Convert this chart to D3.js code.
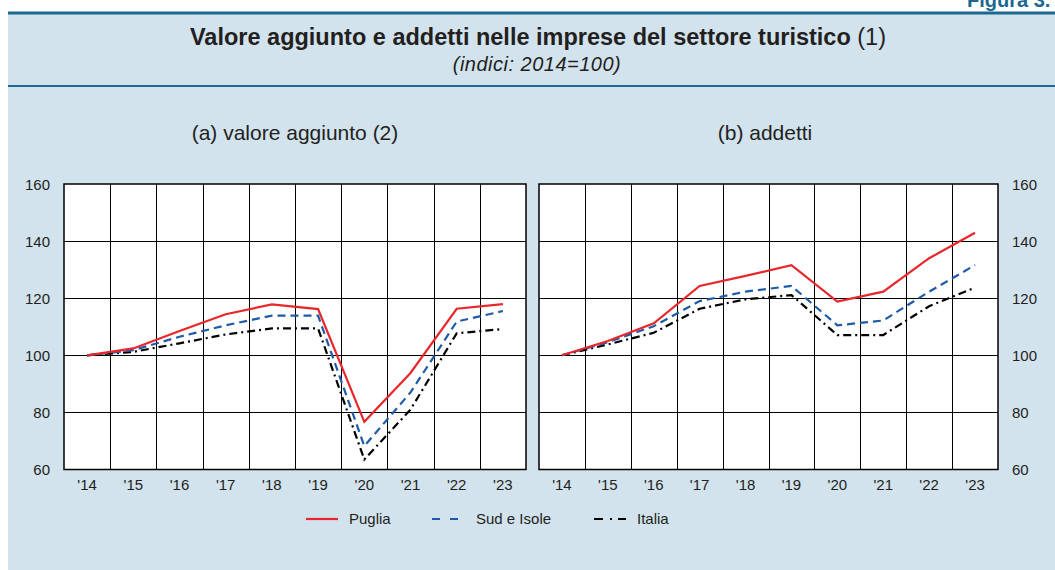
<!DOCTYPE html>
<html>
<head>
<meta charset="utf-8">
<script src="https://cdn.jsdelivr.net/npm/d3@7.9.0/dist/d3.min.js"></script>
<style>
  body { margin: 0; background: #fff; }
  text { font-family: "Liberation Sans", Arial, sans-serif; fill: #231f20; }
</style>
</head>
<body>
<svg id="chart" width="1055" height="570"></svg>
<script>
const years = ["'14", "'15", "'16", "'17", "'18", "'19", "'20", "'21", "'22", "'23"];
const yTicks = [60, 80, 100, 120, 140, 160];

// (a) valore aggiunto
const vaPuglia = [100, 102.4, 108.5, 114.4, 117.8, 116.2, 76.7, 93.8, 116.3, 117.9];
const vaSud    = [100, 101.8, 106.5, 110.5, 113.9, 113.9, 68.2, 87.0, 111.8, 115.5];
const vaItalia = [100, 101.2, 104.2, 107.3, 109.4, 109.4, 63.5, 81.0, 107.7, 109.2];

// (b) addetti
const adPuglia = [100, 105.0, 111.2, 124.3, 127.8, 131.6, 118.8, 122.3, 134.0, 142.9];
const adSud    = [100, 104.6, 110.2, 119.0, 122.3, 124.3, 110.5, 112.2, 122.3, 131.6];
const adItalia = [100, 103.8, 107.9, 116.3, 119.6, 121.1, 107.1, 107.1, 117.2, 123.7];

const seriesNames = ['Puglia', 'Sud e Isole', 'Italia'];
const seriesColors = ['#e8262b', '#1f5ba8', '#000000'];
const seriesDash = [null, '8,5', '8,4,2,4'];

const svg = d3.select('#chart');
const teal = '#1b6890';

// background
svg.append('rect').attr('x', 8).attr('y', 13).attr('width', 1047).attr('height', 557).attr('fill', '#d2e3ee');
svg.append('rect').attr('x', 8).attr('y', 11.5).attr('width', 1047).attr('height', 3).attr('fill', teal);
svg.append('rect').attr('x', 8).attr('y', 85).attr('width', 1047).attr('height', 2).attr('fill', teal);

svg.append('text').attr('x', 967).attr('y', 7)
  .style('font-weight', 'bold').style('font-size', '20px').style('fill', teal)
  .text('Figura 3.');

const title = svg.append('text').attr('x', 538).attr('y', 45)
  .attr('text-anchor', 'middle').style('font-size', '23.5px');
title.append('tspan').style('font-weight', 'bold').text('Valore aggiunto e addetti nelle imprese del settore turistico');
title.append('tspan').text(' (1)');

svg.append('text').attr('x', 537).attr('y', 71)
  .attr('text-anchor', 'middle').style('font-size', '20px').style('font-style', 'italic')
  .style('letter-spacing', '0.5px')
  .text('(indici: 2014=100)');

function drawPanel(opts) {
  const x = d3.scaleBand().domain(years).range([opts.x0, opts.x1]).padding(0);
  const y = d3.scaleLinear().domain([60, 160]).range([469.5, 184]);
  const g = svg.append('g');

  g.append('rect').attr('x', opts.x0).attr('y', 184)
    .attr('width', opts.x1 - opts.x0).attr('height', 469.5 - 184).attr('fill', '#fff');

  // vertical grid at band boundaries
  g.selectAll('.vgrid').data(years.slice(1)).enter().append('line')
    .attr('x1', d => Math.round(x(d)) + 0.5).attr('x2', d => Math.round(x(d)) + 0.5)
    .attr('y1', 184).attr('y2', 469.5)
    .attr('stroke', '#000').attr('stroke-width', 1);

  g.selectAll('.hgrid').data(yTicks.slice(1, -1)).enter().append('line')
    .attr('x1', opts.x0).attr('x2', opts.x1)
    .attr('y1', d => Math.round(y(d)) + 0.5).attr('y2', d => Math.round(y(d)) + 0.5)
    .attr('stroke', '#000').attr('stroke-width', 1);

  g.append('rect').attr('x', opts.x0).attr('y', 184)
    .attr('width', opts.x1 - opts.x0).attr('height', 469.5 - 184)
    .attr('fill', 'none').attr('stroke', '#000').attr('stroke-width', 1.5);

  // y tick labels
  g.selectAll('.ylab').data(yTicks).enter().append('text')
    .attr('x', opts.right ? opts.x1 + 14 : opts.x0 - 14)
    .attr('y', d => y(d) + 5.5)
    .attr('text-anchor', opts.right ? 'start' : 'end')
    .style('font-size', '15px')
    .text(d => d);

  // x tick labels
  g.selectAll('.xlab').data(years).enter().append('text')
    .attr('x', d => x(d) + x.bandwidth() / 2)
    .attr('y', 490)
    .attr('text-anchor', 'middle')
    .style('font-size', '15px')
    .text(d => d);

  g.append('text').attr('x', opts.titleX).attr('y', 140)
    .attr('text-anchor', 'middle').style('font-size', '21px')
    .text(opts.title);

  const line = d3.line()
    .x((d, i) => x(years[i]) + x.bandwidth() / 2)
    .y(d => y(d));

  // draw Italia first, Puglia on top
  [2, 1, 0].forEach(k => {
    g.append('path').datum(opts.series[k])
      .attr('d', line)
      .attr('fill', 'none')
      .attr('stroke', seriesColors[k])
      .attr('stroke-width', 2.2)
      .attr('stroke-dasharray', seriesDash[k]);
  });
}

drawPanel({ x0: 64, x1: 526, right: false, title: '(a) valore aggiunto (2)', titleX: 295,
  series: [vaPuglia, vaSud, vaItalia] });
drawPanel({ x0: 539, x1: 998, right: true, title: '(b) addetti', titleX: 765,
  series: [adPuglia, adSud, adItalia] });

// legend
const legendX = [306, 432, 594];
const legendW = [32, 26, 32];
const legendTextX = [349, 476, 637];
seriesNames.forEach((name, k) => {
  svg.append('line')
    .attr('x1', legendX[k]).attr('x2', legendX[k] + legendW[k])
    .attr('y1', 519).attr('y2', 519)
    .attr('stroke', seriesColors[k]).attr('stroke-width', 2.2)
    .attr('stroke-dasharray', k === 1 ? '8,10' : (k === 2 ? '9,7,2,6' : null));
  svg.append('text').attr('x', legendTextX[k]).attr('y', 524)
    .style('font-size', '15px').text(name);
});
</script>
</body>
</html>
